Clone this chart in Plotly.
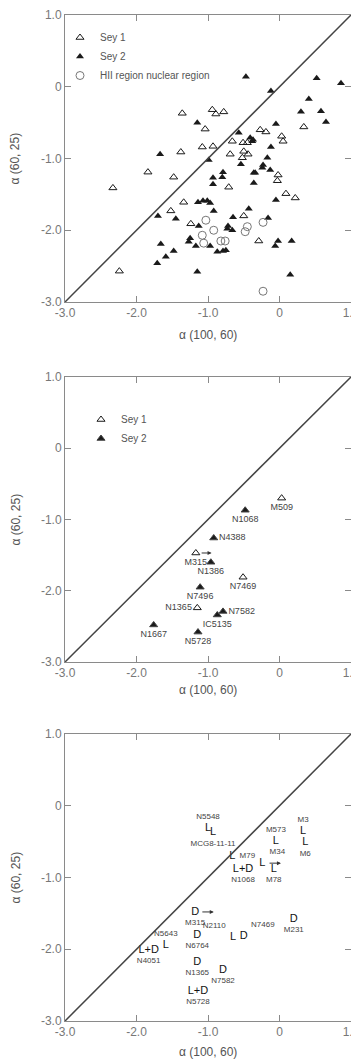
import plotly.graph_objects as go

# ---------------- data ----------------
tick_vals = [-3, -2, -1, 0, 1]
tick_text = ["-3.0", "-2.0", "-1.0", "0", "1.0"]
axis_range = [-3, 1]
x_title = "α (100, 60)"
y_title = "α (60, 25)"

# Panel 1 : all galaxies
p1_sey2_x = [-0.47, -0.12, 0.52, 0.86, 0.41, 0.30, 0.58, 0.65, -0.05, -1.15, -0.57, -0.41, -0.38,
             -0.37, -0.12, -1.67, -0.99, -0.17, -0.54, -0.23, -0.24, -0.13, -0.36, -0.93, -0.93,
             -0.80, -0.79, -0.34, -0.36, -0.05, -1.14, -1.07, -1.01, -0.97, -0.92, -1.70, -1.45,
             -1.13, -0.43, -0.65, -0.16, -0.72, -0.66, -0.73, -1.25, -1.27, -1.17, -1.66, -1.48,
             -1.59, -1.71, -1.15, -0.02, -0.06, 0.17, -0.97, -0.87, -0.79, -0.75, 0.15]
p1_sey2_y = [0.14, -0.06, 0.12, 0.05, -0.17, -0.35, -0.34, -0.49, -0.52, -0.50, -0.64, -0.71, -0.76,
             -0.74, -0.84, -0.94, -1.02, -0.99, -1.08, -1.09, -1.13, -1.16, -1.20, -1.27, -1.36,
             -1.26, -1.19, -1.20, -1.34, -1.58, -1.61, -1.59, -1.59, -1.62, -1.73, -1.80, -1.84,
             -1.94, -1.70, -1.82, -1.83, -1.94, -2.00, -1.98, -2.11, -2.16, -2.22, -2.19, -2.29,
             -2.37, -2.46, -2.58, -2.15, -2.22, -2.15, -2.22, -2.30, -2.29, -2.28, -2.62]
p1_sey1_x = [-1.36, -0.94, -0.89, -0.78, -1.04, 0.34, -0.27, -0.19, -0.66, -0.51, -0.45, 0.03,
             0.05, -1.08, -0.93, -1.38, -0.69, -0.50, -0.44, -0.52, -0.02, -0.03, -1.84, -1.48,
             -2.33, -1.34, -1.52, -1.24, -0.71, 0.09, 0.22, -0.50, -0.29, -2.24]
p1_sey1_y = [-0.37, -0.32, -0.38, -0.35, -0.59, -0.56, -0.60, -0.63, -0.76, -0.78, -0.78, -0.69,
             -0.76, -0.84, -0.83, -0.91, -0.94, -0.90, -0.94, -0.99, -1.23, -1.31, -1.19, -1.26,
             -1.41, -1.61, -1.73, -1.91, -1.40, -1.49, -1.55, -1.80, -2.15, -2.57]
p1_hii_x = [-1.03, -1.08, -1.06, -0.92, -0.23, -0.45, -0.48, -0.76, -0.82, -0.23]
p1_hii_y = [-1.86, -2.07, -2.18, -2.00, -1.89, -1.95, -2.02, -2.15, -2.15, -2.85]

# Panel 2 : named Seyferts
p2_names = ["M509", "N1068", "N4388", "M315", "N1386", "N7469", "N7496",
            "N1365", "IC5135", "N7582", "N1667", "N5728"]
p2_type = ["Sey 1", "Sey 2", "Sey 2", "Sey 1", "Sey 2", "Sey 1", "Sey 2",
           "Sey 1", "Sey 2", "Sey 2", "Sey 2", "Sey 2"]
p2_x = [0.03, -0.48, -0.92, -1.17, -0.96, -0.51, -1.11, -1.15, -0.87, -0.79, -1.76, -1.14]
p2_y = [-0.70, -0.87, -1.26, -1.47, -1.60, -1.81, -1.95, -2.24, -2.34, -2.29, -2.48, -2.58]
p2_limits = ["M315"]

# Panel 3 : line (L) / dust (D) classification
p3_names = ["N5548", "MCG8-11-11", "M573", "M3", "M6", "M79", "M34", "M78", "N1068", "M315",
            "N5643", "N4051", "N6764", "N2110", "N7469", "M231", "N1365", "N7582", "N5728"]
p3_class = ["L", "L", "L", "L", "L", "L", "L", "L", "L+D", "D",
            "L", "L+D", "D", "L", "D", "D", "D", "D", "L+D"]
p3_x = [-1.00, -0.93, -0.05, 0.33, 0.36, -0.66, -0.24, -0.08, -0.51, -1.18,
        -1.59, -1.83, -1.15, -0.65, -0.50, 0.20, -1.15, -0.79, -1.14]
p3_y = [-0.32, -0.37, -0.49, -0.35, -0.51, -0.70, -0.80, -0.88, -0.88, -1.48,
        -1.94, -2.01, -1.80, -1.83, -1.82, -1.58, -2.18, -2.29, -2.58]
p3_limits = ["M34", "M315"]

# ---------------- styling ----------------
INK = "#1a1a1a"
AXC = "#8a8a8a"
TXT = "#555555"
FONT = "Liberation Sans"
OFF = 8  # browser body margin (px)

p2_textpos = {"N4388": "middle right", "N1365": "middle left", "N7582": "middle right"}
p3_textpos = {"N5548": "top center", "M573": "top center", "M3": "top center",
              "M79": "middle right", "M34": "top right", "N5643": "top center",
              "N2110": "top left", "N7469": "top right"}

W, H = 359, 1059


def px_x(sx):
    return (sx - OFF) / W


def px_y(sy):
    return (H - (sy - OFF)) / H


fig = go.Figure()

xdom = [px_x(65), px_x(351)]
ydoms = [[px_y(302), px_y(15)],
         [px_y(662), px_y(377)],
         [px_y(1021), px_y(734)]]

# Panel 1 traces
fig.add_trace(go.Scatter(x=p1_sey1_x, y=p1_sey1_y, mode="markers", name="Sey 1",
                         marker=dict(symbol="triangle-up-open", size=7, color=INK, line=dict(width=1)),
                         xaxis="x", yaxis="y", legend="legend"))
fig.add_trace(go.Scatter(x=p1_sey2_x, y=p1_sey2_y, mode="markers", name="Sey 2",
                         marker=dict(symbol="triangle-up", size=7, color=INK),
                         xaxis="x", yaxis="y", legend="legend"))
fig.add_trace(go.Scatter(x=p1_hii_x, y=p1_hii_y, mode="markers", name="HII region nuclear region",
                         marker=dict(symbol="circle-open", size=8, color="#777777", line=dict(width=1)),
                         xaxis="x", yaxis="y", legend="legend"))

# Panel 2 traces
for typ, sym in [("Sey 1", "triangle-up-open"), ("Sey 2", "triangle-up")]:
    idx = [i for i, t in enumerate(p2_type) if t == typ]
    fig.add_trace(go.Scatter(
        x=[p2_x[i] for i in idx], y=[p2_y[i] for i in idx],
        text=[p2_names[i] for i in idx], mode="markers+text", name=typ,
        textposition=[p2_textpos.get(p2_names[i], "bottom center") for i in idx],
        textfont=dict(size=9, color="#444444", family=FONT),
        marker=dict(symbol=sym, size=7, color=INK, line=dict(width=1)),
        xaxis="x2", yaxis="y2", legend="legend2"))

# Panel 3 traces
fig.add_trace(go.Scatter(x=p3_x, y=p3_y, text=p3_class, mode="text", showlegend=False,
                         textfont=dict(size=11, color="#111111", family=FONT),
                         xaxis="x3", yaxis="y3"))
fig.add_trace(go.Scatter(x=p3_x, y=p3_y, text=p3_names, mode="markers+text", showlegend=False,
                         marker=dict(size=10, color="rgba(0,0,0,0)"),
                         textposition=[p3_textpos.get(n, "bottom center") for n in p3_names],
                         textfont=dict(size=8, color="#444444", family=FONT),
                         xaxis="x3", yaxis="y3"))

# diagonal lines
for k in ["", "2", "3"]:
    fig.add_trace(go.Scatter(x=axis_range, y=axis_range, mode="lines", showlegend=False,
                             line=dict(color="#444444", width=1.5),
                             xaxis="x" + k, yaxis="y" + k, hoverinfo="skip"))

# limit arrows
ann = []
for name in p2_limits:
    i = p2_names.index(name)
    ann.append(dict(x=p2_x[i] + 0.22, y=p2_y[i], ax=p2_x[i] + 0.06, ay=p2_y[i],
                    xref="x2", yref="y2", axref="x2", ayref="y2", showarrow=True,
                    arrowhead=2, arrowsize=0.8, arrowwidth=1, arrowcolor="#333333", text=""))
for name in p3_limits:
    i = p3_names.index(name)
    ann.append(dict(x=p3_x[i] + 0.26, y=p3_y[i], ax=p3_x[i] + 0.08, ay=p3_y[i],
                    xref="x3", yref="y3", axref="x3", ayref="y3", showarrow=True,
                    arrowhead=2, arrowsize=0.8, arrowwidth=1, arrowcolor="#333333", text=""))

# axis titles
xt_y = [335, 690, 1052]
for k, yy in enumerate(xt_y):
    ann.append(dict(text=x_title, x=px_x(208), y=px_y(yy), xref="paper", yref="paper",
                    showarrow=False, font=dict(size=12, color=TXT, family=FONT),
                    xanchor="center", yanchor="middle"))
    yc = (ydoms[k][0] + ydoms[k][1]) / 2
    ann.append(dict(text=y_title, x=px_x(15), y=yc, xref="paper", yref="paper",
                    showarrow=False, textangle=-90, font=dict(size=12, color=TXT, family=FONT),
                    xanchor="center", yanchor="middle"))

axis_common = dict(range=axis_range, tickvals=tick_vals, ticktext=tick_text,
                   showline=True, linecolor=AXC, linewidth=1, mirror="ticks",
                   ticks="inside", ticklen=6, tickcolor=AXC, showgrid=False, zeroline=False,
                   tickfont=dict(size=12, color="#777777", family=FONT), automargin=False)

layout = dict(
    width=W, height=H, margin=dict(l=0, r=0, t=0, b=0),
    paper_bgcolor="white", plot_bgcolor="white",
    annotations=ann,
    legend=dict(x=52 / W, y=(H - 15) / H, xanchor="left", yanchor="top",
                bgcolor="rgba(0,0,0,0)", font=dict(size=10, color=TXT, family=FONT),
                tracegroupgap=0, itemwidth=30),
    legend2=dict(x=73 / W, y=(H - 397) / H, xanchor="left", yanchor="top",
                 bgcolor="rgba(0,0,0,0)", font=dict(size=10, color=TXT, family=FONT),
                 tracegroupgap=0, itemwidth=30),
)
for k, (ax, ay) in enumerate([("xaxis", "yaxis"), ("xaxis2", "yaxis2"), ("xaxis3", "yaxis3")]):
    sfx = "" if k == 0 else str(k + 1)
    layout[ax] = dict(axis_common, domain=xdom, anchor="y" + sfx)
    layout[ay] = dict(axis_common, domain=ydoms[k], anchor="x" + sfx)

fig.update_layout(**layout)
fig.write_html("out.html")
